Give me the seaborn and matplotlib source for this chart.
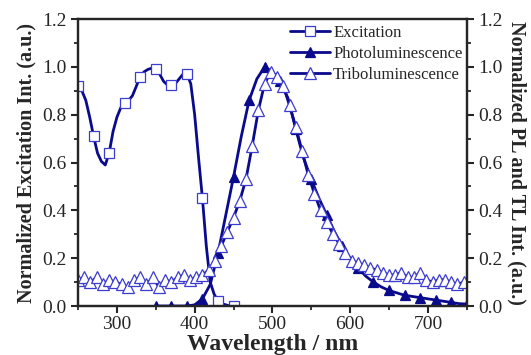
import matplotlib
matplotlib.use("Agg")
import matplotlib.pyplot as plt
import seaborn as sns
from matplotlib.ticker import MultipleLocator

# excitation spectrum (every 5 nm)
exc_wl = [250, 255, 260, 265, 270, 275, 280, 285, 290, 295, 300, 305, 310, 315, 320,
          325, 330, 335, 340, 345, 350, 355, 360, 365, 370, 375, 380, 385, 390, 395,
          400, 405, 410, 415, 420, 425, 430, 435, 440, 445, 450]
exc_int = [0.92, 0.90, 0.86, 0.79, 0.71, 0.64, 0.605, 0.59, 0.64, 0.73, 0.79, 0.83, 0.85, 0.86, 0.88,
           0.92, 0.96, 0.98, 0.99, 0.995, 0.99, 0.97, 0.94, 0.925, 0.925, 0.93, 0.95, 0.97, 0.97, 0.93,
           0.80, 0.62, 0.45, 0.25, 0.10, 0.05, 0.02, 0.01, 0.005, 0.0, 0.0]

# photoluminescence (every 10 nm)
pl_wl = [350, 360, 370, 380, 390, 400, 410, 420, 430, 440, 450, 460, 470, 480, 490,
         500, 510, 520, 530, 540, 550, 560, 570, 580, 590, 600, 610, 620, 630, 640,
         650, 660, 670, 680, 690, 700, 710, 720, 730, 740, 750]
pl_int = [0.0, 0.0, 0.0, 0.0, 0.0, 0.005, 0.03, 0.09, 0.22, 0.38, 0.54, 0.71, 0.86, 0.95, 1.0,
          0.98, 0.94, 0.87, 0.74, 0.62, 0.53, 0.45, 0.38, 0.31, 0.25, 0.20, 0.16, 0.125, 0.10, 0.08,
          0.065, 0.055, 0.045, 0.04, 0.035, 0.03, 0.025, 0.02, 0.015, 0.01, 0.008]

# triboluminescence (every 8 nm)
tl_wl = [250, 258, 266, 274, 282, 290, 298, 306, 314, 322, 330, 338, 346, 354, 362, 370,
         378, 386, 394, 402, 410, 418, 426, 434, 442, 450, 458, 466, 474, 482, 490, 498,
         506, 514, 522, 530, 538, 546, 554, 562, 570, 578, 586, 594, 602, 610, 618, 626,
         634, 642, 650, 658, 666, 674, 682, 690, 698, 706, 714, 722, 730, 738, 746]
tl_int = [0.11, 0.12, 0.10, 0.12, 0.09, 0.11, 0.10, 0.09, 0.08, 0.11, 0.12, 0.09, 0.12, 0.08, 0.11, 0.10,
          0.12, 0.13, 0.11, 0.12, 0.13, 0.15, 0.19, 0.25, 0.31, 0.37, 0.44, 0.53, 0.67, 0.82, 0.93, 0.98,
          0.96, 0.92, 0.84, 0.75, 0.65, 0.55, 0.47, 0.40, 0.35, 0.30, 0.26, 0.22, 0.19, 0.18, 0.17, 0.16,
          0.15, 0.14, 0.13, 0.13, 0.14, 0.12, 0.12, 0.14, 0.11, 0.10, 0.11, 0.11, 0.10, 0.09, 0.10]

sns.set_style("ticks")
plt.rcParams["font.family"] = ["Liberation Serif", "DejaVu Serif"]

line_c = "#0a0a8c"
edge_c = "#3c3cd0"

fig = plt.figure(figsize=(5.31, 3.55), dpi=100)
ax = fig.add_axes([0.147, 0.138, 0.732, 0.808])
ax2 = ax.twinx()

sns.lineplot(x=exc_wl, y=exc_int, ax=ax, color=line_c, lw=2, marker="s", markevery=4,
             markersize=6.5, mfc="white", mec=edge_c, mew=0.9, label="Excitation", legend=False)
sns.lineplot(x=pl_wl, y=pl_int, ax=ax2, color=line_c, lw=2, marker="^", markevery=2,
             markersize=7, mfc=line_c, mec=line_c, mew=0.9, label="Photoluminescence", legend=False)
sns.lineplot(x=tl_wl, y=tl_int, ax=ax2, color=line_c, lw=2, marker="^",
             markersize=8.5, mfc="white", mec=edge_c, mew=0.9, label="Triboluminescence", legend=False)

for a in (ax, ax2):
    a.set_ylim(0, 1.2)
    a.yaxis.set_major_locator(MultipleLocator(0.2))
    a.yaxis.set_minor_locator(MultipleLocator(0.1))
    for s in a.spines.values():
        s.set_linewidth(1.6)
        s.set_visible(True)
    a.tick_params(which="major", direction="out", length=5, width=1.5, labelsize=14)
    a.tick_params(which="minor", direction="out", length=3, width=1.3)
    a.set_yticklabels([f"{v:.1f}" for v in a.get_yticks()])

ax.set_xlim(250, 750)
ax.xaxis.set_minor_locator(MultipleLocator(50))
ax.tick_params(axis="x", pad=2)
ax.set_xticks([300, 400, 500, 600, 700])
ax.set_xticklabels(["300", "400", "500", "600", "700"])

ax.set_xlabel("Wavelength / nm", fontsize=17, fontweight="bold", labelpad=1)
ax.set_ylabel("Normalized Excitation Int. (a.u.)", fontsize=14.5, fontweight="bold", labelpad=4)
ax2.set_ylabel("Normalized PL and TL Int. (a.u.)", fontsize=14.5, fontweight="bold",
               rotation=-90, labelpad=17)

h1, l1 = ax.get_legend_handles_labels()
h2, l2 = ax2.get_legend_handles_labels()
ax2.legend(h1 + h2, l1 + l2, loc="upper left", bbox_to_anchor=(0.545, 0.98), frameon=False,
           fontsize=12, handlelength=2.4, handletextpad=0.2, labelspacing=0.3,
           borderpad=0, borderaxespad=0)

fig.savefig("out.png", dpi=100)
